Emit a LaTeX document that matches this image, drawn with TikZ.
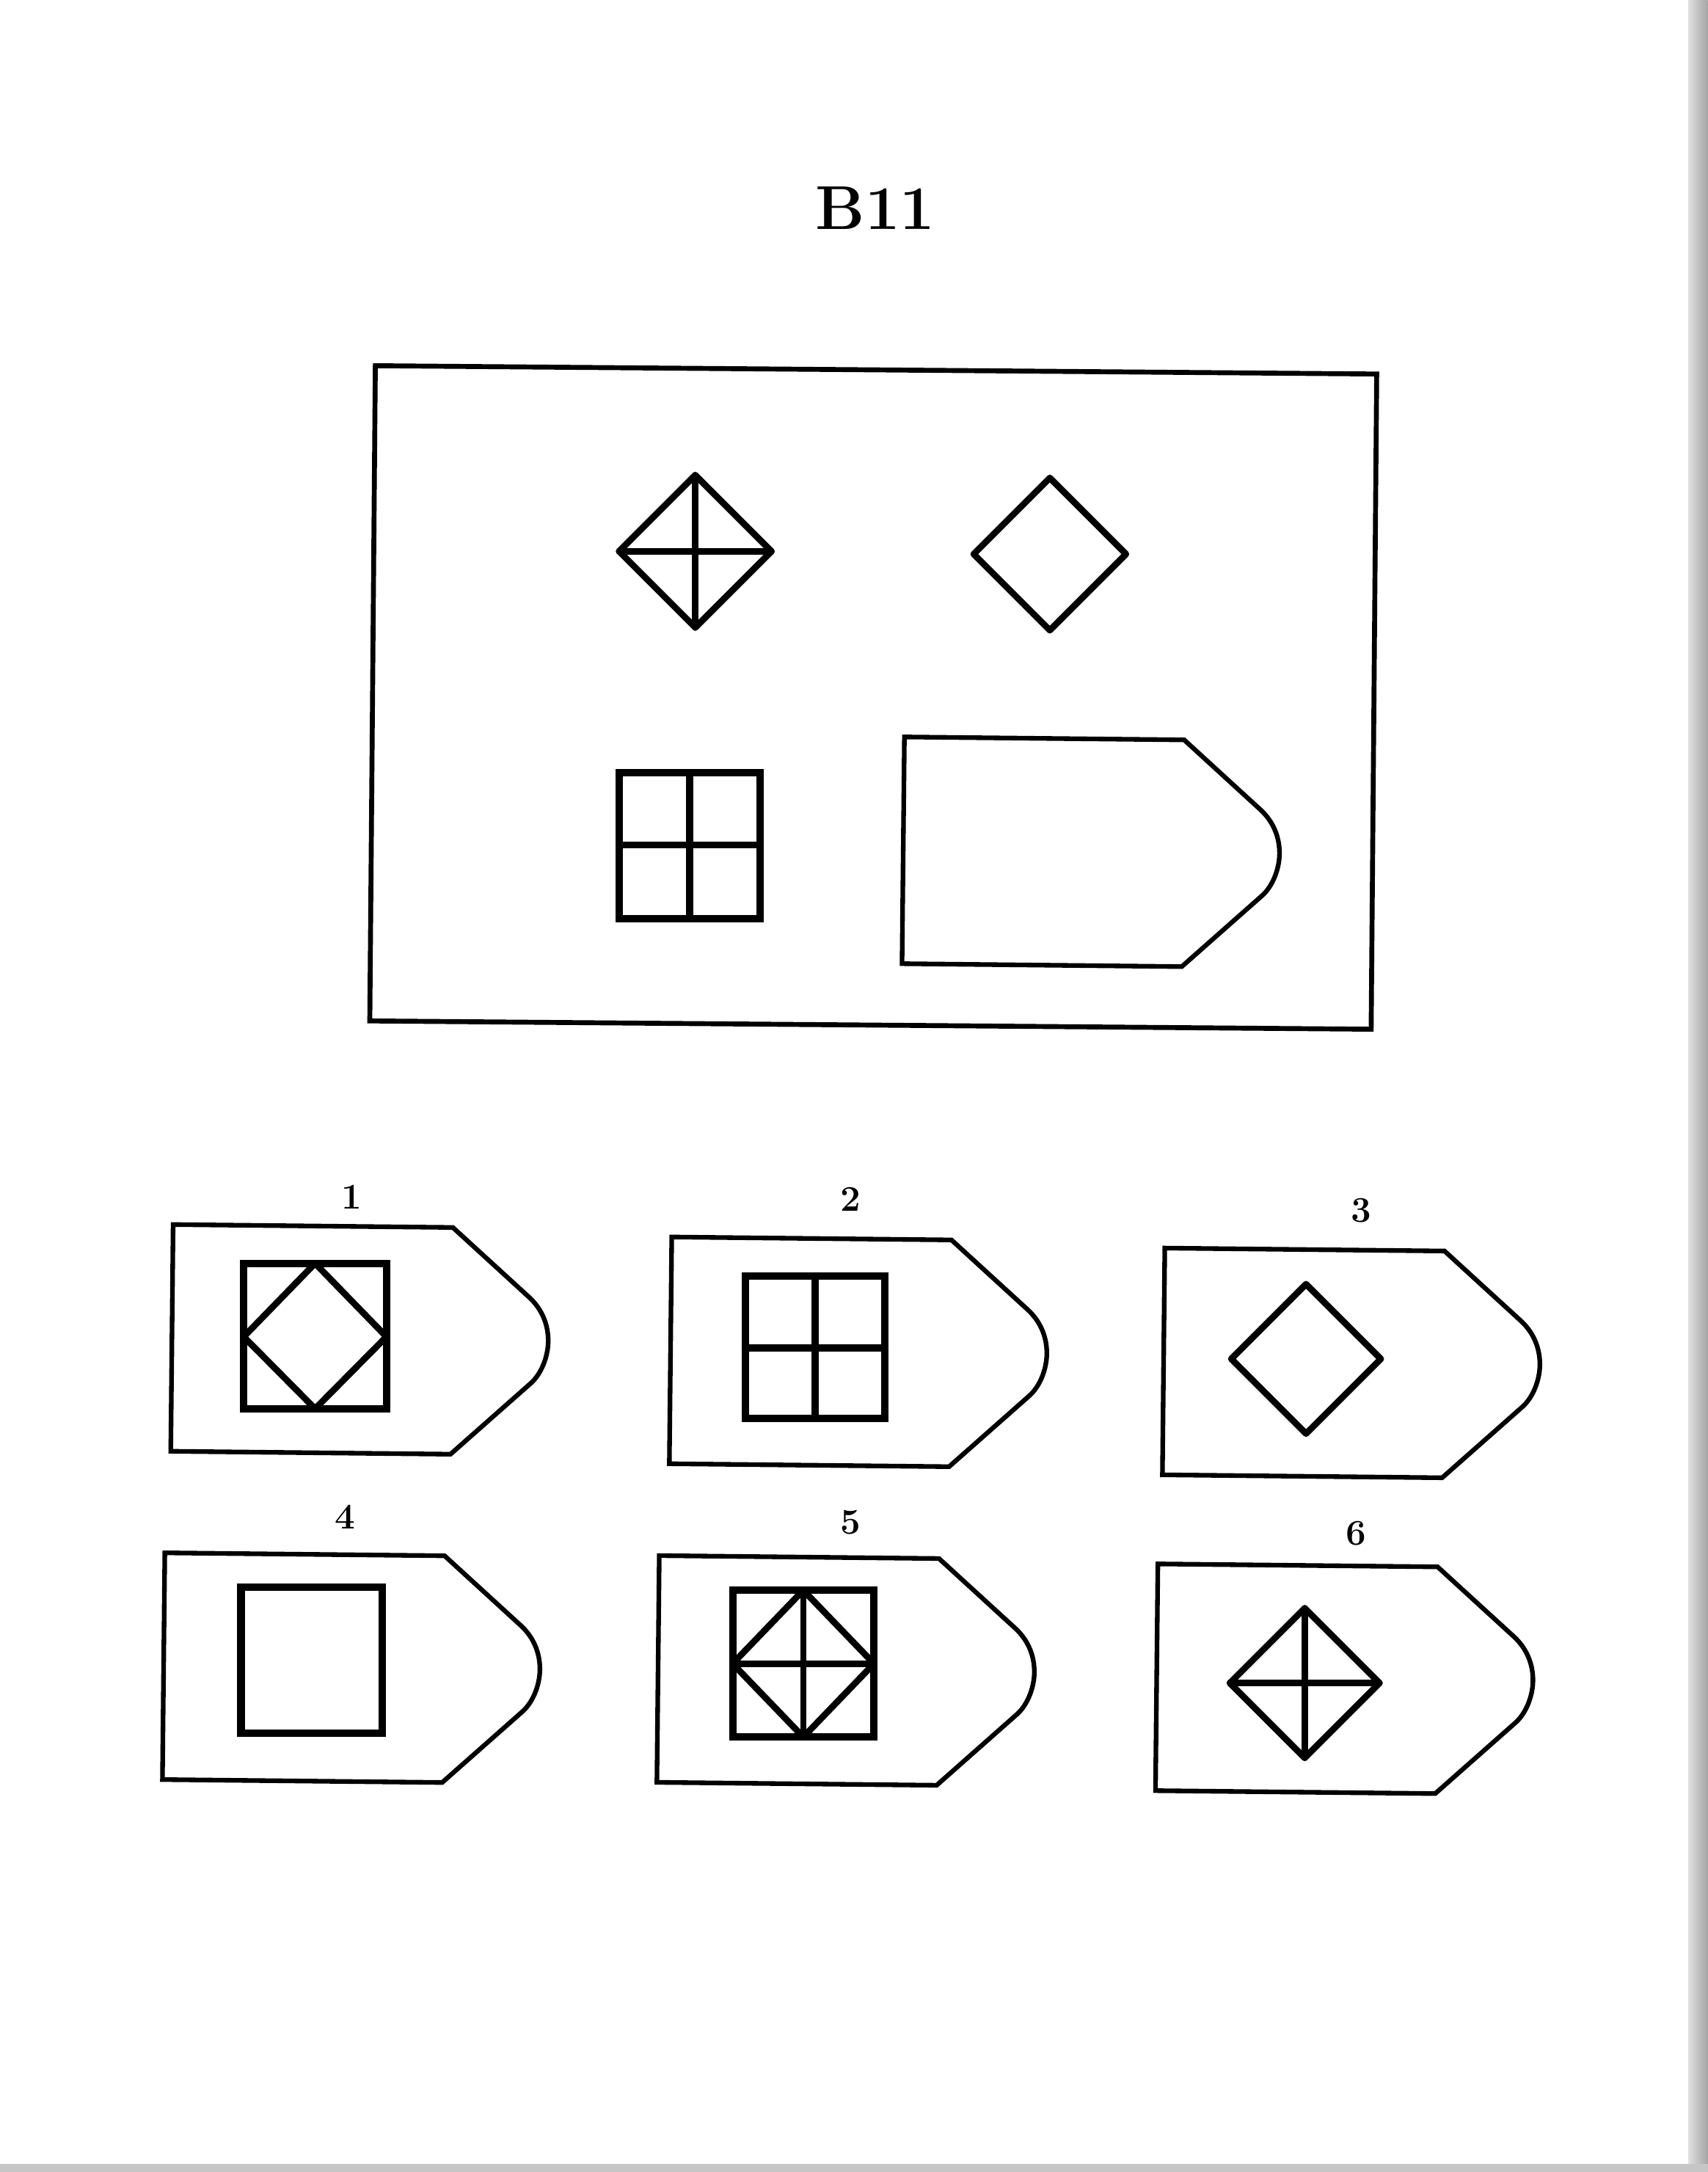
\documentclass[tikz,border=0pt]{standalone}
\tikzset{
  outl/.style={line width=1.8pt, line join=miter},
  figl/.style={line width=2.5pt, line cap=round, line join=round},
  sqfr/.style={line width=2.9pt, line join=miter},
  lbl/.style={font=\fontsize{14}{16}\selectfont\bfseries, inner sep=0pt},
  ttl/.style={font=\fontsize{24}{28}\selectfont\bfseries, inner sep=0pt},
}
\newcommand\ravtag[2]{%
  \begin{scope}[shift={(#1,#2)}, rotate=-0.6]
  \draw[outl] (0,0) -- (202,0) -- (257.6,49.8) .. controls (266.8,58.1) and (271.7,69.2) .. (271.7,81.6)
     .. controls (271.7,92.2) and (267.2,104.9) .. (259.3,112) -- (202,163.7) -- (0,163.7) -- cycle;
  \end{scope}}
\newcommand\ravdiam[3]{\draw[figl] (#1,#2-#3) -- (#1+#3,#2) -- (#1,#2+#3) -- (#1-#3,#2) -- cycle;}
\newcommand\ravcross[3]{\draw[figl] (#1-#3,#2) -- (#1+#3,#2) (#1,#2-#3) -- (#1,#2+#3);}
\begin{document}
\begin{tikzpicture}[x=0.01888cm, y=-0.01888cm]
\useasboundingbox (0,0) rectangle (1233,1568);
\fill[white] (0,0) rectangle (1233,1568);
% scan edges
\shade[left color=gray!25, right color=gray!70] (1219,0) rectangle (1233,1568);
\fill[gray!45] (0,1562) rectangle (1233,1568);
% title
\node[ttl] (title) at (632,150) {B11};
% matrix box
\draw[outl, line width=1.9pt] (271,264) -- (994,270) -- (990,743) -- (267,737) -- cycle;
\ravdiam{502}{398}{55}
\ravcross{502}{398}{55}
\ravdiam{758}{400}{55}
\draw[sqfr] (447,558) rectangle (549,663);
\draw[figl, line width=2.7pt] (447,610) -- (549,610) (498,558) -- (498,663);
\ravtag{653}{532}
% answers
\node[lbl] (l1) at (254,864) {1};
\node[lbl] (l2) at (614,866) {2};
\node[lbl] (l3) at (983,874) {3};
\node[lbl] (l4) at (249,1095) {4};
\node[lbl] (l5) at (614,1099) {5};
\node[lbl] (l6) at (979,1107) {6};
% 1
\ravtag{125}{884}
\draw[sqfr] (176,912) rectangle (279,1017);
\draw[figl] (227.5,912) -- (279,965) -- (227.5,1017) -- (176,965) -- cycle;
% 2
\ravtag{485}{893}
\draw[sqfr] (538,921) rectangle (639,1024);
\draw[figl, line width=2.7pt] (538,973) -- (639,973) (588.5,921) -- (588.5,1024);
% 3
\ravtag{841}{901}
\ravdiam{943}{981}{54}
% 4
\ravtag{119}{1121}
\draw[sqfr] (174,1146) rectangle (276,1251);
% 5
\ravtag{476}{1123}
\draw[sqfr] (529,1148) rectangle (631,1254);
\draw[figl] (580,1148) -- (631,1201) -- (580,1254) -- (529,1201) -- cycle;
\draw[figl] (529,1201) -- (631,1201) (580,1148) -- (580,1254);
% 6
\ravtag{836}{1129}
\ravdiam{942}{1215}{54}
\ravcross{942}{1215}{54}
\end{tikzpicture}
\end{document}
